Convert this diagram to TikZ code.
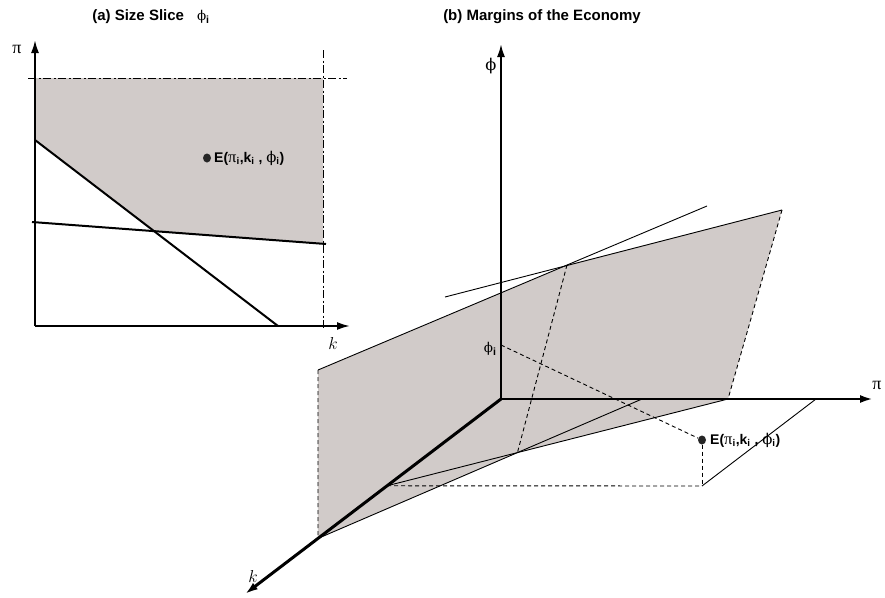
\documentclass[tikz,border=0pt]{standalone}
\usepackage{fontspec}
\setsansfont{Liberation Sans}
\newfontfamily\grk{Liberation Serif}
\newfontfamily\phifont[Scale=0.9]{DejaVu Serif}
\usetikzlibrary{arrows.meta,calc,shapes.geometric}

\definecolor{slicegray}{RGB}{209,203,201}
\newcommand{\subi}{\textsubscript{\sffamily\bfseries i}}
\newcommand{\vphi}{{\phifont\mdseries ϕ}}
\newcommand{\grksize}{\fontsize{16.5}{16}\selectfont}
\newcommand{\Elabel}{E({\grk\mdseries\grksize π}\subi,k\subi\ , {\grksize\vphi}\subi)}

\tikzset{
  axis/.style={line width=2pt,-{Latex[length=13pt,width=8pt]}},
  edge/.style={line width=0.9pt},
  boundline/.style={line width=2pt},
  proj/.style={line width=0.9pt,dash pattern=on 4pt off 3pt},
  dashdot/.style={line width=0.9pt,dash pattern=on 8pt off 2.5pt on 2pt off 2.5pt},
  dot/.style={ellipse,fill=black!85,inner sep=0pt,minimum width=8pt,minimum height=9pt},
  elabel/.style={font=\fontsize{14}{16}\selectfont\sffamily\bfseries,inner sep=0pt},
  title/.style={font=\fontsize{15}{18}\selectfont\sffamily\bfseries},
  axlabel/.style={font=\fontsize{18}{20}\selectfont\grk},
}

\begin{document}
\begin{tikzpicture}[x=1pt,y=-1pt,line join=miter]
\useasboundingbox (0,0) rectangle (885,597);

% (a) size slice
\begin{scope}
  \node[title] (titleA) at (151,17) {(a) Size Slice\hspace{13pt}\vphi\subi};

  \coordinate (aO)     at ( 35,326);
  \coordinate (aPi)    at ( 35, 40);
  \coordinate (aK)     at (350,326);
  \coordinate (capL)   at ( 28, 78);
  \coordinate (capR)   at (347, 78);
  \coordinate (barT)   at (323, 50);
  \coordinate (barB)   at (323,329);
  \coordinate (steepA) at ( 35,140);
  \coordinate (steepB) at (278,326);
  \coordinate (flatA)  at ( 32,222);
  \coordinate (flatB)  at (326,244);
  \coordinate (flatK)  at (323,243.8);
  \coordinate (cross)  at (intersection of steepA--steepB and flatA--flatB);

  \fill[slicegray] (35,78) -- (323,78) -- (flatK) -- (cross) -- (steepA) -- cycle;

  \draw[dashdot] (capL) -- (capR);
  \draw[dashdot] (barT) -- (barB);
  \draw[boundline] (steepA) -- (steepB);
  \draw[boundline] (flatA) -- (flatB);
  \draw[axis] (aO) -- (aPi);
  \draw[axis] (aO) -- (aK);

  \node[axlabel] (piA) at (17,49)  {π};
  \node[axlabel,font=\fontsize{18}{20}\selectfont] (kA)  at (333,343) {$k$};

  \node[dot] (eA) at (207,158) {};
  \node[elabel,anchor=base west] (eAlab) at (214,162) {\Elabel};
\end{scope}

% (b) margins of the economy
\begin{scope}
  \node[title] (titleB) at (542,17) {(b) Margins of the Economy};

  \coordinate (O)       at (501,399);
  \coordinate (phiTip)  at (501, 44);
  \coordinate (piTip)   at (873,399);
  \coordinate (kTip)    at (245,594);
  \coordinate (kFoot)   at ($(O)!0.445!(kTip)$);
  \coordinate (BL)      at ($(O)!0.715!(kTip)$);
  \coordinate (TL)      at (318,370);
  \coordinate (F1)      at (567,265);
  \coordinate (TR)      at (782,210);
  \coordinate (BR)      at (728,399);
  \coordinate (Bend)    at (642,399);
  \coordinate (L1end)   at (707,206);
  \coordinate (L2start) at (445,297);
  \coordinate (F2)      at (intersection of BR--kFoot and BL--Bend);
  \coordinate (phiI)    at (501,345);
  \coordinate (Ebase)   at (702,486);
  \coordinate (piFoot)  at (816,399);

  \fill[slicegray] (TL) -- (F1) -- (TR) -- (BR) -- (F2) -- (BL) -- cycle;

  \node[dot] (eB) at (702,440) {};

  \draw[proj] (TL) -- (BL);
  \draw[proj] (TR) -- (BR);
  \draw[proj] (F1) -- (F2);
  \draw[proj] (kFoot) -- (Ebase);
  \draw[proj] (eB) -- (Ebase);
  \draw[proj] (phiI) -- (eB);

  \draw[edge] (TL) -- (L1end);
  \draw[edge] (L2start) -- (TR);
  \draw[edge] (BR) -- (kFoot);
  \draw[edge] (BL) -- (Bend);
  \draw[edge] (Ebase) -- (piFoot);

  \draw[axis] (O) -- (phiTip);
  \draw[axis,line width=2.5pt] (O) -- (piTip);
  \draw[axis,line width=3pt] (O) -- (kTip);

  \node[axlabel] (phiB) at (491,66)  {\vphi};
  \node[axlabel] (piB)  at (877,385) {π};
  \node[axlabel,font=\fontsize{18}{20}\selectfont] (kB) at (253,576) {$k$};
  \node[axlabel,anchor=east,font=\fontsize{15}{18}\selectfont] (phiIlab) at (500,349) {\vphi\subi};

  \node[elabel,anchor=base west] (eBlab) at (710,444) {\Elabel};
\end{scope}

\end{tikzpicture}
\end{document}
